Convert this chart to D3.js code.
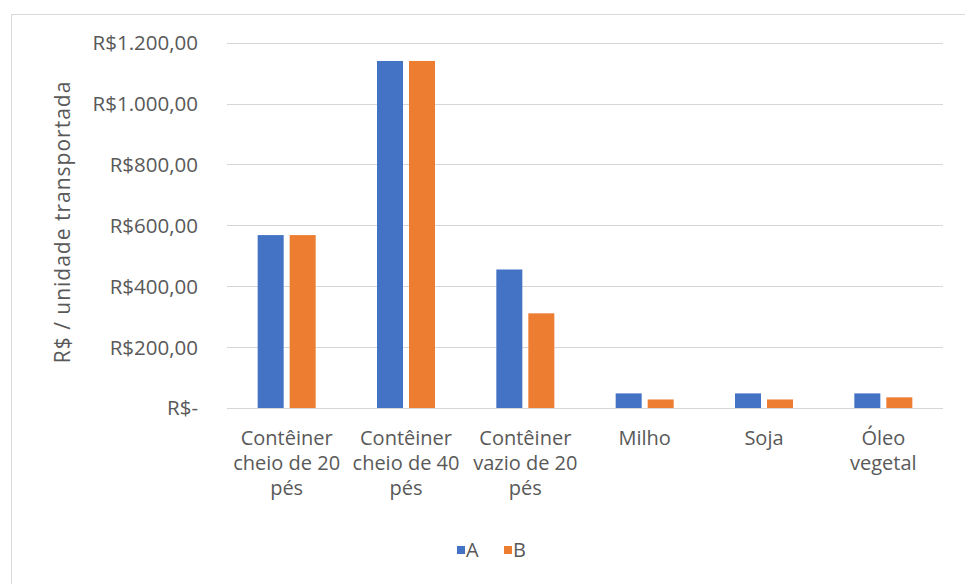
<!DOCTYPE html>
<html>
<head>
<meta charset="utf-8">
<script src="https://cdn.jsdelivr.net/npm/d3@7"></script>
<style>
  html, body { margin: 0; padding: 0; background: #fff; }
  svg { display: block; }
  text { font-family: "Open Sans", "Noto Sans", sans-serif; fill: #595959; }
</style>
</head>
<body>
<svg id="chart" width="965" height="584"></svg>
<script>
// Category labels, already broken into the lines shown under each group
const categoryLines = [
  ["Contêiner", "cheio de 20", "pés"],
  ["Contêiner", "cheio de 40", "pés"],
  ["Contêiner", "vazio de 20", "pés"],
  ["Milho"],
  ["Soja"],
  ["Óleo", "vegetal"]
];
const categories = categoryLines.map(l => l.join(" "));
const seriesNames = ["A", "B"];
const valuesA = [568, 1140, 455, 48, 48, 48];
const valuesB = [568, 1140, 311, 28, 28, 35];
const yTicks = [0, 200, 400, 600, 800, 1000, 1200];
const yTitle = "R$ / unidade transportada";
const colors = ["#4472C4", "#ED7D31"];

const svg = d3.select("#chart");

// Chart frame
svg.append("rect")
  .attr("x", 11.5).attr("y", 14.5)
  .attr("width", 1000).attr("height", 1000)
  .attr("fill", "none").attr("stroke", "#d9d9d9").attr("stroke-width", 1);

const plot = { left: 227, right: 943, top: 42.7, bottom: 408 };

const x = d3.scaleBand().domain(categories).range([plot.left, plot.right]).padding(0);
const xInner = d3.scaleBand().domain(seriesNames).range([-29, 29]).paddingInner(0.1875);
const y = d3.scaleLinear().domain([0, 1200]).range([plot.bottom, plot.top]);

// Brazilian currency format for the value axis
const fmtMoney = v => {
  if (v === 0) return "R$-";
  const s = d3.format(",.2f")(v).replace(/,/g, "#").replace(".", ",").replace(/#/g, ".");
  return "R$" + s;
};

// Gridlines
svg.append("g")
  .selectAll("line")
  .data(yTicks)
  .join("line")
  .attr("x1", plot.left).attr("x2", plot.right)
  .attr("y1", d => Math.round(y(d)) + 0.5).attr("y2", d => Math.round(y(d)) + 0.5)
  .attr("stroke", "#d6d6d6").attr("stroke-width", 1);

// Value axis labels
const yAxis = d3.axisLeft(y).tickValues(yTicks).tickFormat(fmtMoney).tickSize(0).tickPadding(0);
const yg = svg.append("g").attr("transform", `translate(${198},0)`).call(yAxis);
yg.select(".domain").remove();
yg.selectAll("text").attr("font-size", 20.5).style("font-family", "'Open Sans', sans-serif").attr("fill", "#595959").attr("dy", "0.34em");

// Axis title
svg.append("text")
  .attr("transform", `translate(70, ${(77 + 367) / 2}) rotate(-90)`)
  .attr("text-anchor", "middle")
  .attr("font-size", 21)
  .attr("letter-spacing", 1)
  .text(yTitle);

// Bars
const rows = categories.map((c, i) => ({ cat: c, vals: [valuesA[i], valuesB[i]] }));
const groups = svg.append("g")
  .selectAll("g")
  .data(rows)
  .join("g")
  .attr("transform", d => `translate(${x(d.cat) + x.bandwidth() / 2},0)`);

groups.selectAll("rect")
  .data(d => d.vals.map((v, j) => ({ s: seriesNames[j], v, j })))
  .join("rect")
  .attr("x", d => xInner(d.s))
  .attr("width", xInner.bandwidth())
  .attr("y", d => y(d.v))
  .attr("height", d => y(0) - y(d.v))
  .attr("fill", d => colors[d.j]);

// Category labels, one text element per line
const xl = svg.append("g")
  .selectAll("g")
  .data(categories)
  .join("g");
xl.each(function (d, i) {
  const g = d3.select(this);
  categoryLines[i].forEach((line, k) => {
    g.append("text")
      .attr("text-anchor", "middle")
      .attr("font-size", 20)
      .attr("x", x(d) + x.bandwidth() / 2)
      .attr("y", 445 + k * 25)
      .text(line);
  });
});

// Legend
const legend = svg.append("g").attr("transform", "translate(457,550)");
const legendItems = legend.selectAll("g")
  .data(seriesNames)
  .join("g")
  .attr("transform", (d, i) => `translate(${i * 47},0)`);
legendItems.append("rect")
  .attr("x", 0).attr("y", -4).attr("width", 8).attr("height", 8)
  .attr("fill", (d, i) => colors[i]);
legendItems.append("text")
  .attr("x", 9).attr("y", 0).attr("dy", "0.35em")
  .attr("font-size", 20)
  .text(d => d);
</script>
</body>
</html>
